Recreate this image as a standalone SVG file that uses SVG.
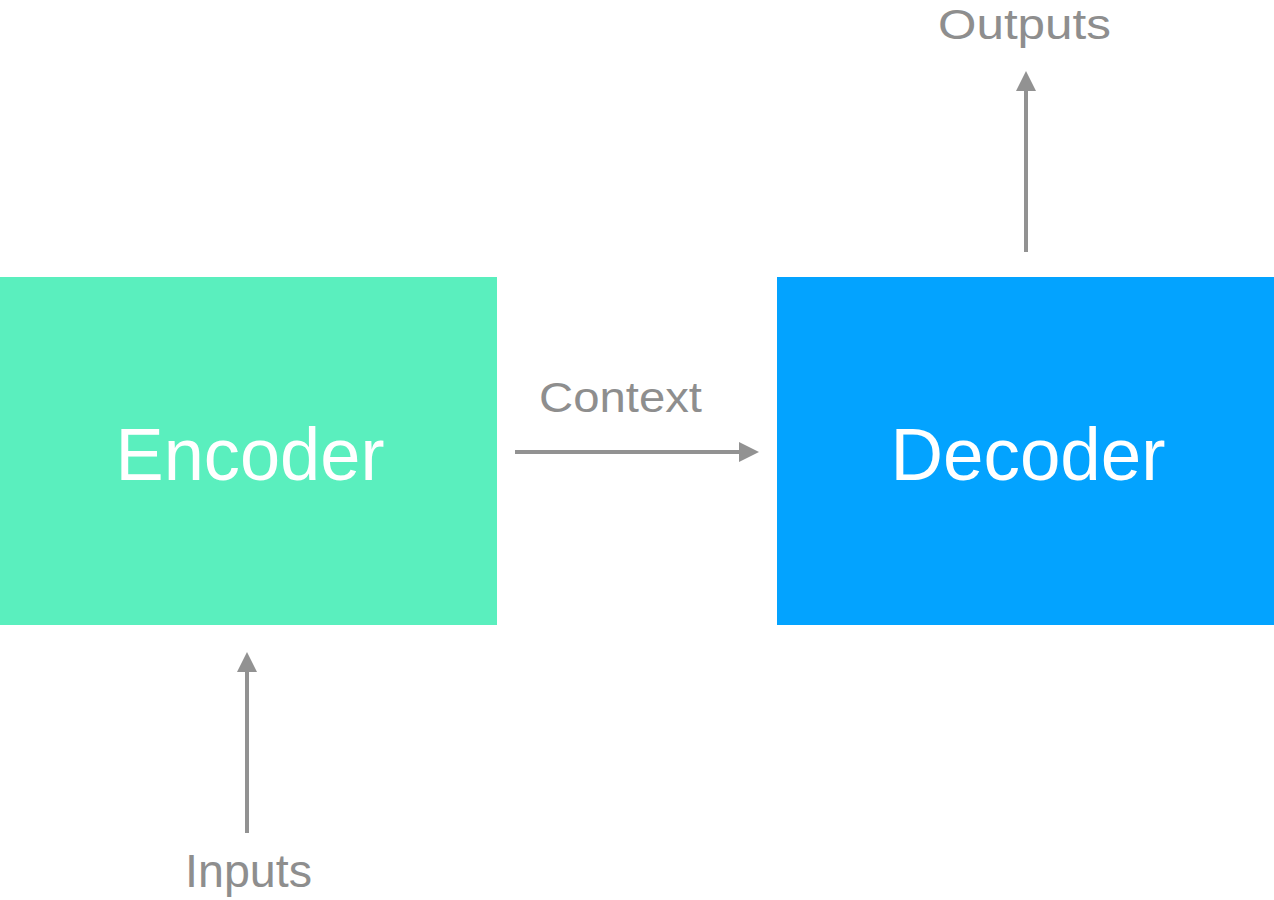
<svg xmlns="http://www.w3.org/2000/svg" width="1274" height="900" viewBox="0 0 1274 900">
  <style>
    .node-label { font-family: "Liberation Sans", Arial, sans-serif; font-size: 74px; fill: #ffffff; text-anchor: middle; }
    .edge-label { font-family: "Liberation Sans", Arial, sans-serif; fill: #8e8e8e; text-anchor: middle; }
    .conn { stroke: #929292; stroke-width: 4; fill: none; }
  </style>
  <defs>
    <marker id="arrow" viewBox="0 0 20 20" markerWidth="20" markerHeight="20" refX="0" refY="10" orient="auto" markerUnits="userSpaceOnUse">
      <path d="M0,0 L20,10 L0,20 z" fill="#929292"/>
    </marker>
  </defs>
  <rect width="1274" height="900" fill="#ffffff"/>
  <g id="encoder">
    <rect x="0" y="277" width="497" height="348" fill="#5aefbe"/>
    <text class="node-label" x="250" y="480" textLength="269" lengthAdjust="spacingAndGlyphs">Encoder</text>
  </g>
  <g id="decoder">
    <rect x="777" y="277" width="497" height="348" fill="#03a3ff"/>
    <text class="node-label" x="1028" y="480" textLength="275" lengthAdjust="spacingAndGlyphs">Decoder</text>
  </g>
  <g id="connectors">
    <line class="conn" x1="515" y1="452" x2="739" y2="452" marker-end="url(#arrow)"/>
    <line class="conn" x1="1026" y1="252" x2="1026" y2="91" marker-end="url(#arrow)"/>
    <line class="conn" x1="247" y1="833" x2="247" y2="672" marker-end="url(#arrow)"/>
  </g>
  <g id="labels">
    <text class="edge-label" x="620.5" y="412" font-size="42" textLength="163" lengthAdjust="spacingAndGlyphs">Context</text>
    <text class="edge-label" x="1024.5" y="39" font-size="42" textLength="173" lengthAdjust="spacingAndGlyphs">Outputs</text>
    <text class="edge-label" x="248.5" y="887" font-size="46" textLength="127" lengthAdjust="spacingAndGlyphs">Inputs</text>
  </g>
</svg>
